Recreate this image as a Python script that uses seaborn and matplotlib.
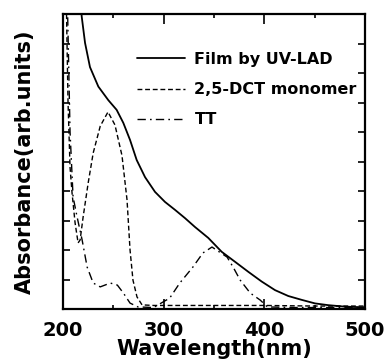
import numpy as np
import pandas as pd
import matplotlib
matplotlib.use("Agg")
import matplotlib.pyplot as plt
import seaborn as sns
from matplotlib.ticker import MultipleLocator, NullFormatter

# Film by UV-LAD (solid)
film_wl = [215, 218.6, 221.9, 226.8, 235.1, 245.0, 253.3, 259.9, 266.6, 273.2, 281.5,
           291.4, 301.3, 311.3, 321.2, 331.1, 344.3, 357.6, 370.9, 384.1, 397.4,
           410.6, 423.8, 437.1, 450.3, 463.5, 480.1, 496.7, 500]
film_abs = [11.5, 9.91, 9.02, 8.2, 7.54, 7.08, 6.75, 6.31, 5.73, 5.05, 4.47,
            3.97, 3.63, 3.36, 3.08, 2.78, 2.41, 1.94, 1.60, 1.26, 0.93,
            0.64, 0.44, 0.31, 0.19, 0.13, 0.08, 0.06, 0.06]

# 2,5-DCT monomer (dashed)
mono_wl = [203, 205, 207, 209, 212, 215, 217, 220, 225, 230, 237, 244.7, 251.6,
           258.6, 263.6, 266.6, 269.5, 273.5, 278.5, 290, 320, 360, 400, 450, 500]
mono_abs = [11.0, 7.0, 4.8, 3.93, 2.92, 2.24, 2.34, 3.12, 4.27, 5.29, 6.2, 6.68, 6.24,
            5.2, 3.7, 2.0, 0.98, 0.41, 0.14, 0.12, 0.12, 0.12, 0.12, 0.1, 0.1]

# TT (dash-dot)
tt_wl = [204, 207, 210, 214, 219, 224, 230, 237, 247, 254, 260, 266.6, 274.5, 290,
         306, 316, 329, 339, 348, 363, 369, 376, 386, 396, 403, 430, 500]
tt_abs = [11.0, 6.0, 3.8, 3.12, 2.34, 1.42, 0.88, 0.75, 0.88, 0.81, 0.54, 0.2, 0.07, 0.05,
          0.37, 0.88, 1.42, 1.9, 2.1, 1.76, 1.42, 0.98, 0.54, 0.3, 0.07, 0.05, 0.05]

labels = ["Film by UV-LAD", "2,5-DCT monomer", "TT"]
x_ticks = [200, 300, 400, 500]

sns.set_style("ticks")
plt.rcParams['font.family'] = ['DejaVu Sans']
plt.rcParams['font.weight'] = 'bold'
plt.rcParams['text.color'] = 'black'
plt.rcParams['axes.labelcolor'] = 'black'
plt.rcParams['xtick.color'] = 'black'
plt.rcParams['ytick.color'] = 'black'

fig = plt.figure(figsize=(3.88, 3.62), dpi=100)
ax = fig.add_axes([63/388, 1-309/362, (365-63)/388, (309-14)/362])

frames = [
    pd.DataFrame({"wl": film_wl, "abs": film_abs}),
    pd.DataFrame({"wl": mono_wl, "abs": mono_abs}),
    pd.DataFrame({"wl": tt_wl, "abs": tt_abs}),
]
styles = [dict(linestyle="-", linewidth=1.3),
          dict(linestyle=(0, (3.5, 2.0)), linewidth=1.0),
          dict(linestyle=(0, (6, 3, 1.2, 3)), linewidth=1.0)]
for df, lab, st in zip(frames, labels, styles):
    sns.lineplot(data=df, x="wl", y="abs", ax=ax, color="black", label=lab, **st)

ax.set_xlim(200, 500)
ax.set_ylim(0, 10)
ax.set_xticks(x_ticks)
ax.set_xticklabels([str(t) for t in x_ticks])
ax.xaxis.set_minor_locator(MultipleLocator(50))
ax.yaxis.set_major_locator(MultipleLocator(1))
ax.yaxis.set_major_formatter(NullFormatter())
ax.tick_params(axis="both", which="both", direction="in", top=True, right=True,
               width=1.2, colors="black", labelcolor="black")
ax.tick_params(axis="x", which="major", length=7, labelsize=14, pad=9)
ax.tick_params(axis="x", which="minor", length=3)
ax.tick_params(axis="y", which="major", length=5)
for lbl in ax.get_xticklabels():
    lbl.set_fontweight("bold")
for sp in ax.spines.values():
    sp.set_linewidth(1.6)
    sp.set_color("black")

ax.set_xlabel("Wavelength(nm)", fontsize=15, fontweight="bold", labelpad=-1,
              color="black")
ax.set_ylabel("Absorbance(arb.units)", fontsize=15, fontweight="bold", labelpad=17,
              color="black")

leg = ax.legend(loc="upper left", bbox_to_anchor=((137-63)/302, 1-(52-14)/295),
                frameon=False, fontsize=11.5, handlelength=3.0, handletextpad=0.6,
                labelspacing=0.95, borderaxespad=0, borderpad=0)
for t in leg.get_texts():
    t.set_fontweight("bold")
    t.set_color("black")

fig.savefig("out.png", dpi=100, facecolor="white")
